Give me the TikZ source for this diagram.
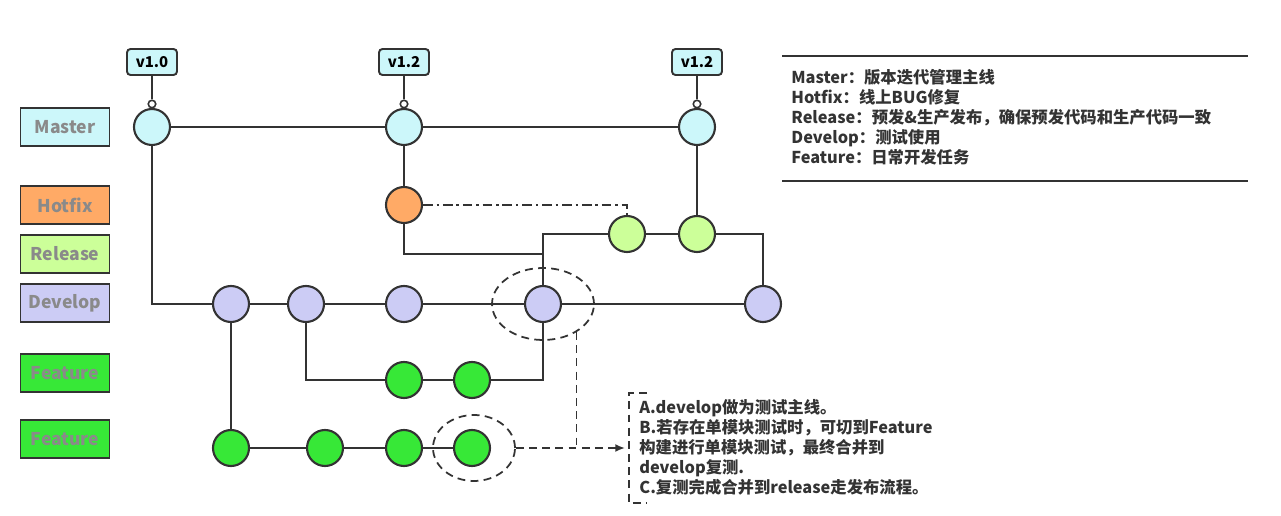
\documentclass[tikz,border=0pt]{standalone}
\usepackage{fontspec}
\setmainfont{Noto Sans CJK SC}
\usetikzlibrary{arrows.meta, shapes.geometric, positioning}
\usepackage{xcolor}
\definecolor{linecol}{RGB}{51,51,51}
\definecolor{labelcol}{RGB}{138,138,138}
\definecolor{mastercol}{RGB}{204,247,250}
\definecolor{hotfixcol}{RGB}{255,170,102}
\definecolor{releasecol}{RGB}{204,255,153}
\definecolor{developcol}{RGB}{204,204,245}
\definecolor{featurecol}{RGB}{55,232,55}

\begin{document}
\begin{tikzpicture}[x=0.02cm, y=-0.02cm,
    commit/.style={circle, draw=linecol, line width=1.2pt, minimum size=0.72cm, inner sep=0pt},
    branchbox/.style={draw=linecol, line width=1.1pt, minimum width=1.78cm, minimum height=0.77cm,
      inner sep=0pt, text=labelcol, font=\bfseries\fontsize{10}{12}\selectfont},
    vtag/.style={draw=linecol, line width=1.1pt, rounded corners=2pt, fill=mastercol,
      minimum width=1cm, minimum height=0.52cm, inner sep=0pt, font=\bfseries\fontsize{8.5}{10}\selectfont},
    tagdot/.style={circle, draw=linecol, line width=0.9pt, fill=white, minimum size=0.15cm, inner sep=0pt},
    link/.style={draw=linecol, line width=1.1pt},
    focus/.style={draw=linecol, line width=1pt, dash pattern=on 4.5pt off 3pt},
    note/.style={anchor=base west, align=left, inner sep=0pt, text=linecol,
      font=\bfseries\fontsize{9.3}{11.4}\selectfont}]
  \useasboundingbox (0,0) rectangle (1281,516);

  % branch labels
  \foreach \n/\y/\name/\col in {lm/127/Master/mastercol, lh/205/Hotfix/hotfixcol,
      lr/254/Release/releasecol, ld/303/Develop/developcol,
      lf/373/Feature/featurecol, lg/439/Feature/featurecol}
    \node[branchbox, fill=\col] (\n) at (65,\y) {\name};

  % commits
  \foreach \n/\x/\y/\col in {m1/152/127/mastercol, m2/404/127/mastercol, m3/697/127/mastercol,
      h1/404/205/hotfixcol, r1/627/234/releasecol, r2/697/234/releasecol,
      d1/231/304/developcol, d2/306/304/developcol, d3/404/304/developcol,
      d4/543/304/developcol, d5/763/304/developcol,
      fa1/404/380/featurecol, fa2/472/380/featurecol,
      fb1/231/448/featurecol, fb2/325/448/featurecol, fb3/404/448/featurecol, fb4/472/448/featurecol}
    \node[commit, fill=\col] (\n) at (\x,\y) {};

  % version tags
  \foreach \n/\x/\t in {1/152/v1.0, 2/404/v1.2, 3/697/v1.2} {
      \node[vtag] (t\n) at (\x,62) {\t};
      \node[tagdot] (k\n) at (\x,104) {};
      \draw[link] (t\n) -- (k\n);
      \draw[link] (k\n) -- (m\n);
    }

  % master, hotfix, release
  \draw[link] (m1) -- (m2) -- (m3);
  \draw[link] (m2) -- (h1);
  \draw[link] (m3) -- (r2);
  \draw[link] (r1) -- (r2);
  \draw[link] (r1) -| (d4);
  \draw[link] (r2) -| (d5);
  \coordinate (hj) at (543,254);
  \draw[link] (h1) |- (hj);
  \draw[link, dash pattern=on 5.5pt off 2.2pt on 1.4pt off 2.2pt] (h1) -| (r1);

  % develop and features
  \draw[link] (m1) |- (d1);
  \draw[link] (d1) -- (d2) -- (d3) -- (d4) -- (d5);
  \draw[link] (d2) |- (fa1);
  \draw[link] (fa1) -- (fa2);
  \draw[link] (fa2) -| (d4);
  \draw[link] (d1) -- (fb1) -- (fb2) -- (fb3) -- (fb4);

  % highlighted commits
  \node[focus, ellipse, minimum width=2.04cm, minimum height=1.44cm, inner sep=0pt] (e1) at (543,304) {};
  \node[focus, ellipse, minimum width=1.64cm, minimum height=1.32cm, inner sep=0pt] (e2) at (474,448) {};
  \coordinate (tip) at (625,448);
  \draw[focus, -{Latex[length=5.5pt, width=4.5pt]}] (e2) -- (tip);
  \draw[focus] (e1.-40) -- (e1.-40 |- tip);

  % notes
  \draw[focus] (647,393) -- (629,393) -- (629,503) -- (647,503);
  \node[note] (steps) at (639,494) {A.develop做为测试主线。\\
    B.若存在单模块测试时，可切到Feature\\
    构建进行单模块测试，最终合并到\\
    develop复测.\\
    C.复测完成合并到release走发布流程。};

  % legend
  \draw[link, line width=1.2pt] (782,56) -- (1248,56);
  \draw[link, line width=1.2pt] (782,181) -- (1248,181);
  \node[note] (legend) at (791,164) {Master：版本迭代管理主线\\
    Hotfix：线上BUG修复\\
    Release：预发\&生产发布，确保预发代码和生产代码一致\\
    Develop：测试使用\\
    Feature：日常开发任务};
\end{tikzpicture}
\end{document}
